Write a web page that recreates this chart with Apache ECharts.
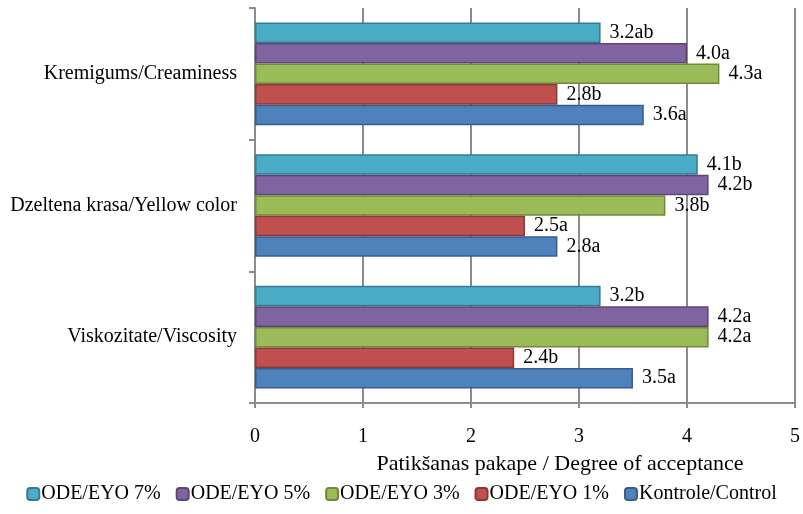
<!DOCTYPE html>
<html>
<head>
<meta charset="utf-8">
<script src="https://cdn.jsdelivr.net/npm/echarts@6/dist/echarts.min.js"></script>
<style>
  html, body { margin: 0; padding: 0; background: #fff; }
  #chart { width: 803px; height: 514px; }
</style>
</head>
<body>
<div id="chart"></div>
<script>
  // categories, bottom to top
  var categories = ['Viskozitate/Viscosity', 'Dzeltena krasa/Yellow color', 'Kremigums/Creaminess'];

  // values per series (same order as categories)
  var control = [3.5, 2.8, 3.6];
  var eyo1 = [2.4, 2.5, 2.8];
  var eyo3 = [4.2, 3.8, 4.3];
  var eyo5 = [4.2, 4.2, 4.0];
  var eyo7 = [3.2, 4.1, 3.2];

  // significance letters
  var controlLetters = ['a', 'a', 'a'];
  var eyo1Letters = ['b', 'a', 'b'];
  var eyo3Letters = ['a', 'b', 'a'];
  var eyo5Letters = ['a', 'b', 'a'];
  var eyo7Letters = ['b', 'b', 'ab'];

  var xTicks = [0, 1, 2, 3, 4, 5];

  var font = '"Liberation Serif", "Times New Roman", serif';

  function makeSeries(name, values, letters, color, border) {
    return {
      name: name,
      type: 'bar',
      data: values,
      barGap: '0%',
      barCategoryGap: '22%',
      itemStyle: { color: color, borderColor: border, borderWidth: 1.5 },
      label: {
        show: true,
        position: 'right',
        distance: 9,
        color: '#000',
        fontFamily: font,
        fontSize: 20,
        formatter: function (p) { return p.value.toFixed(1) + letters[p.dataIndex]; }
      }
    };
  }

  var chart = echarts.init(document.getElementById('chart'));
  chart.setOption({
    animation: false,
    textStyle: { fontFamily: font },
    grid: { left: 255, right: 8, top: 8, bottom: 111 },
    legend: {
      top: 479,
      left: 'center',
      itemWidth: 12,
      itemHeight: 12,
      itemGap: 15,
      textStyle: { fontFamily: font, fontSize: 20, color: '#000', padding: [0, 0, 0, -3] },
      data: ['ODE/EYO 7%', 'ODE/EYO 5%', 'ODE/EYO 3%', 'ODE/EYO 1%', 'Kontrole/Control']
    },
    xAxis: {
      type: 'value',
      min: xTicks[0],
      max: xTicks[xTicks.length - 1],
      interval: 1,
      name: 'Patikšanas pakape / Degree of acceptance',
      nameLocation: 'middle',
      nameGap: 50,
      nameTextStyle: { fontFamily: font, fontSize: 22, color: '#000', padding: [0, 0, 0, 70] },
      axisLine: { show: true, lineStyle: { color: '#8c8c8c', width: 2 } },
      axisTick: { show: true, length: 5, lineStyle: { color: '#8c8c8c', width: 2 } },
      axisLabel: { margin: 24, fontFamily: font, fontSize: 20, color: '#000' },
      splitLine: { show: true, lineStyle: { color: '#8c8c8c', width: 2 } }
    },
    yAxis: {
      type: 'category',
      data: categories,
      axisLine: { show: true, lineStyle: { color: '#8c8c8c', width: 2 } },
      axisTick: { show: true, length: 6, lineStyle: { color: '#8c8c8c', width: 2 } },
      axisLabel: { margin: 18, fontFamily: font, fontSize: 20, color: '#000' }
    },
    // first series is drawn at the top of each group
    series: [
      makeSeries('ODE/EYO 7%', eyo7, eyo7Letters, '#4BACC6', '#357D91'),
      makeSeries('ODE/EYO 5%', eyo5, eyo5Letters, '#8064A2', '#5C4776'),
      makeSeries('ODE/EYO 3%', eyo3, eyo3Letters, '#9BBB59', '#71893F'),
      makeSeries('ODE/EYO 1%', eyo1, eyo1Letters, '#C0504D', '#8C3836'),
      makeSeries('Kontrole/Control', control, controlLetters, '#4F81BD', '#385D8A')
    ]
  });
</script>
</body>
</html>
